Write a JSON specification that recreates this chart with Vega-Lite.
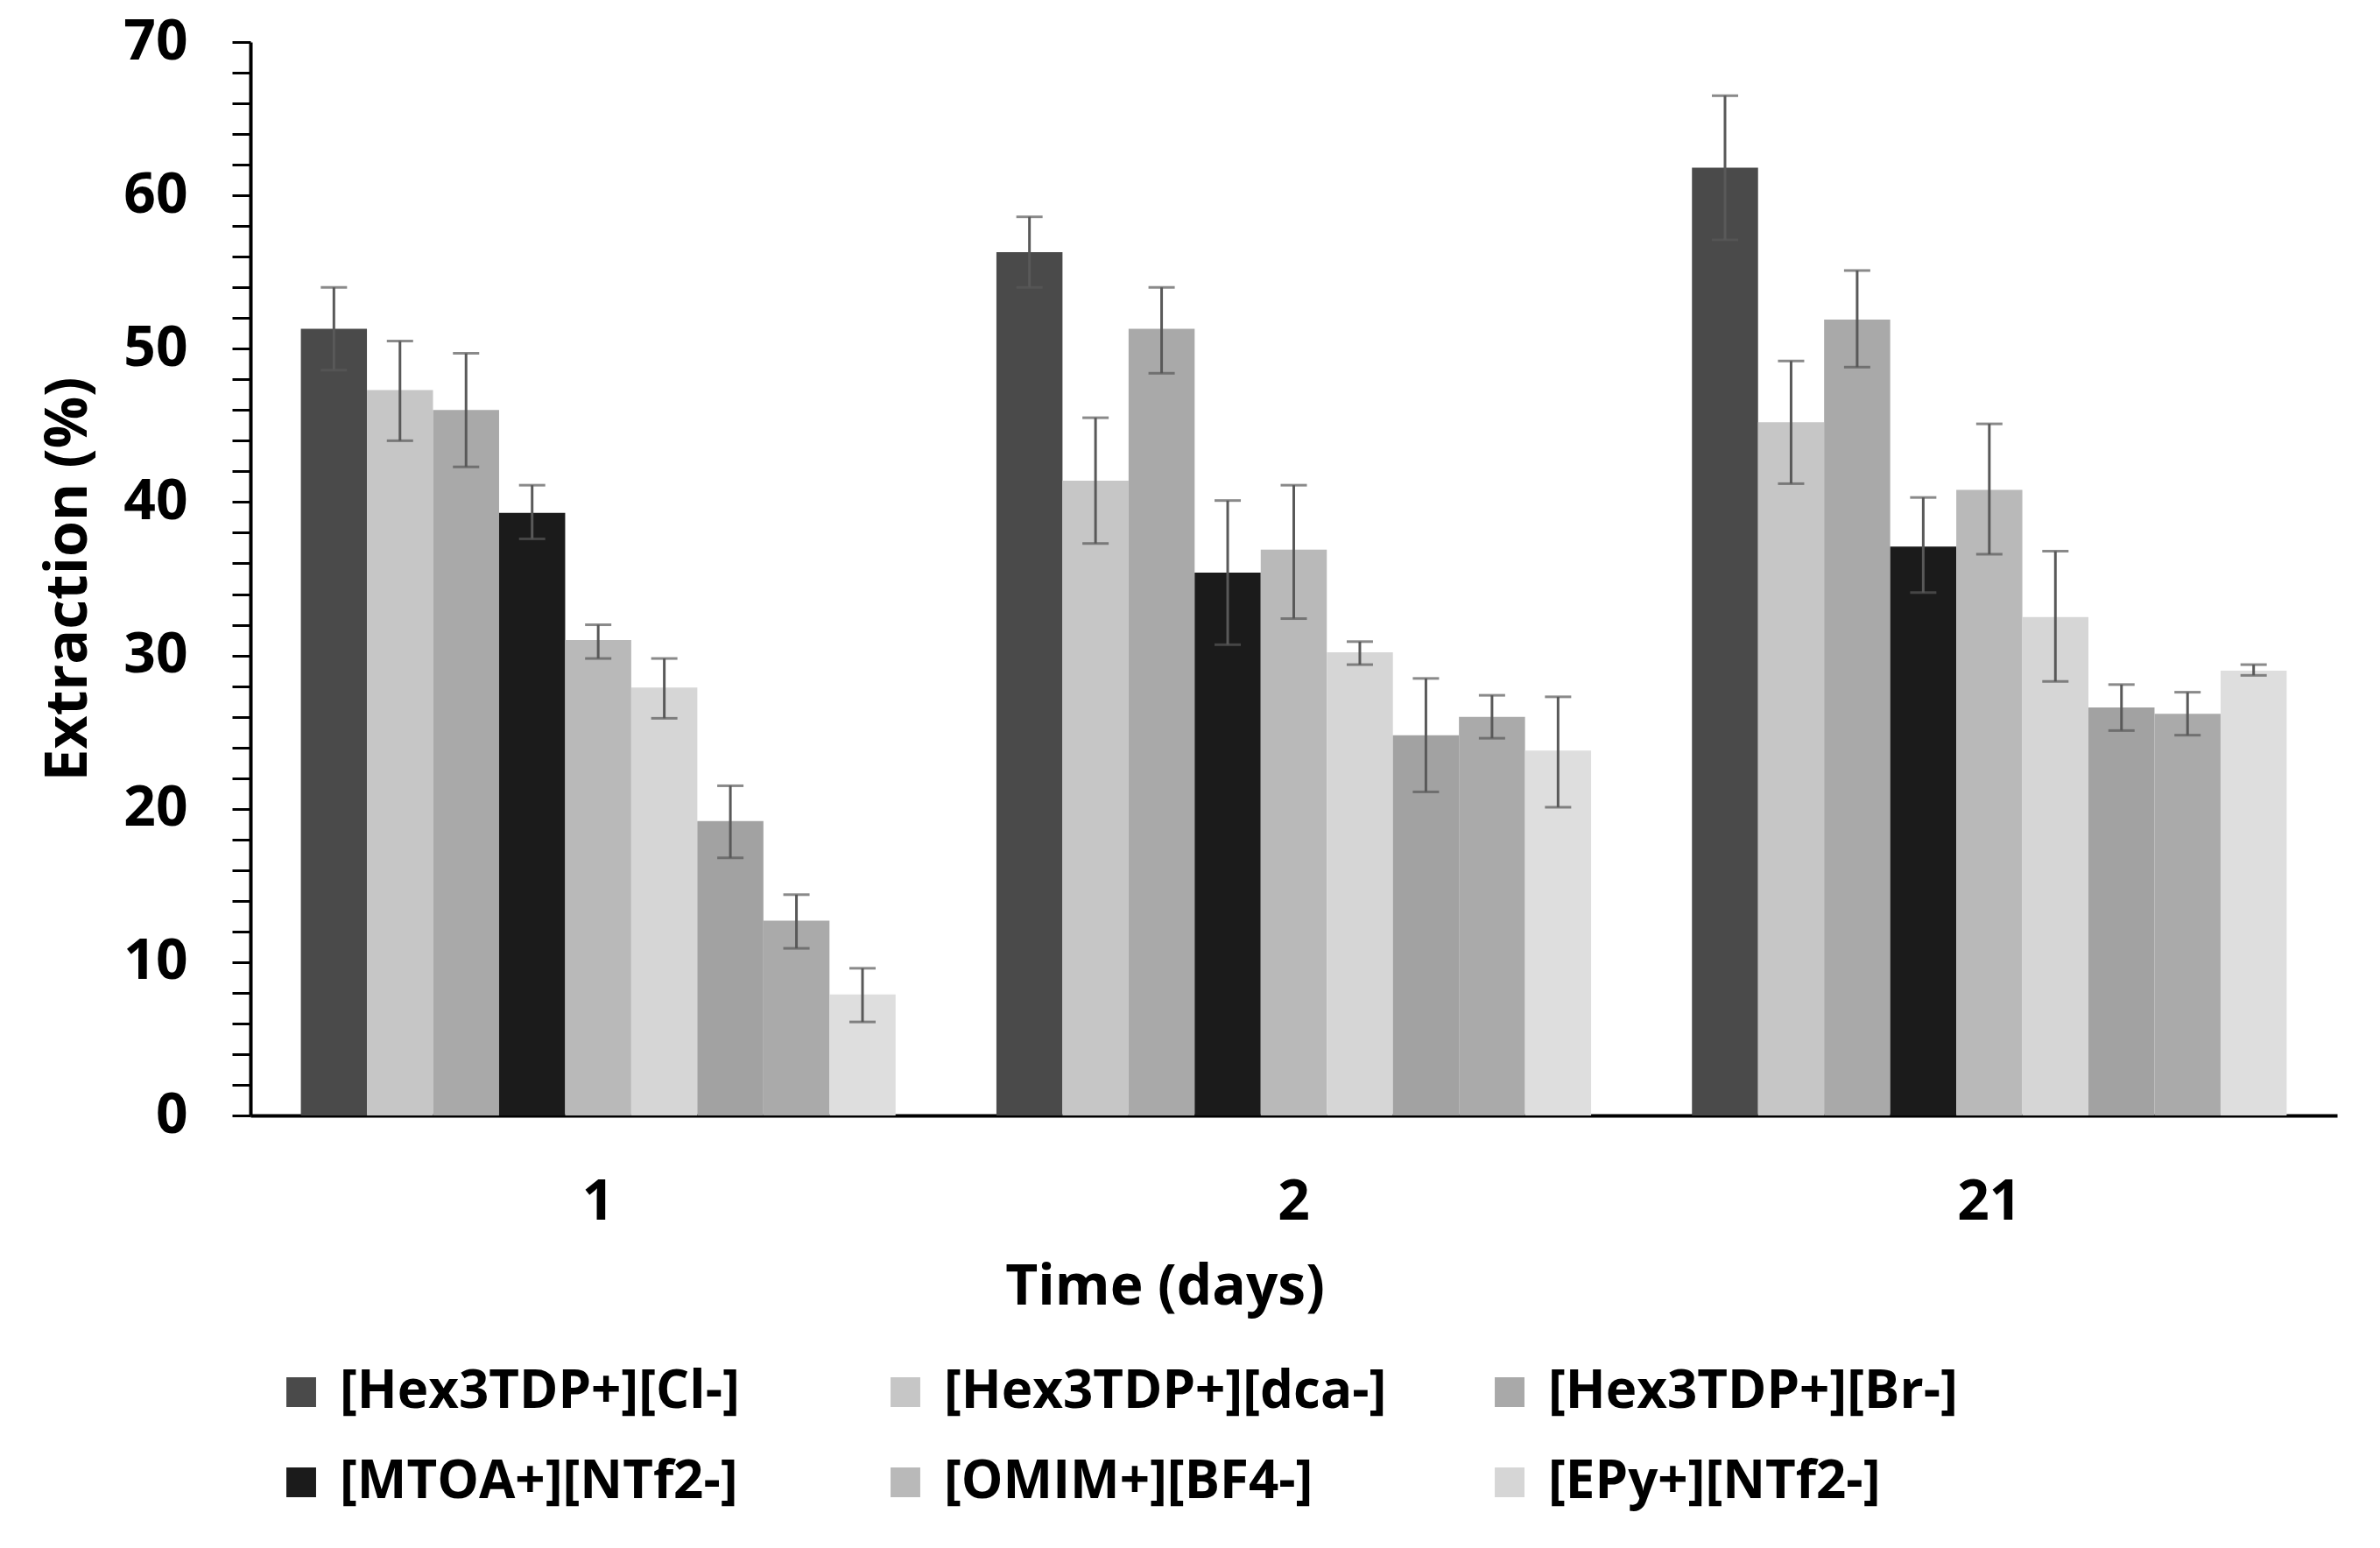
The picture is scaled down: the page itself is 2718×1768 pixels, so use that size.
{
  "$schema": "https://vega.github.io/schema/vega-lite/v6.json",
  "width": 2383,
  "height": 1226,
  "autosize": {"type": "none"},
  "padding": {"left": 286, "top": 48, "right": 49, "bottom": 494},
  "background": "white",
  "config": {
    "font": "Open Sans",
    "view": {"stroke": null},
    "axis": {"grid": false, "labelColor": "black", "titleColor": "black", "labelFontWeight": "bold", "titleFontWeight": "bold"},
    "axisY": {
      "values": [0, 2, 4, 6, 8, 10, 12, 14, 16, 18, 20, 22, 24, 26, 28, 30, 32, 34, 36, 38, 40, 42, 44, 46, 48, 50, 52, 54, 56, 58, 60, 62, 64, 66, 68, 70],
      "tickCount": 35,
      "labelExpr": "datum.value % 10 === 0 ? datum.label : ''",
      "labelOverlap": false,
      "labelBound": false,
      "labelFlush": false,
      "domainColor": "black",
      "domainWidth": 4,
      "tickColor": "black",
      "tickWidth": 3,
      "tickSize": 21,
      "labelFontSize": 64,
      "labelPadding": 51,
      "titleFontSize": 66,
      "titlePadding": 28
    }
  },
  "data": {
    "values": [
      {"day": "1", "il": "[Hex3TDP+][Cl-]", "value": 51.3, "lo": 48.6, "hi": 54.0},
      {"day": "1", "il": "[Hex3TDP+][dca-]", "value": 47.3, "lo": 44.0, "hi": 50.5},
      {"day": "1", "il": "[Hex3TDP+][Br-]", "value": 46.0, "lo": 42.3, "hi": 49.7},
      {"day": "1", "il": "[MTOA+][NTf2-]", "value": 39.3, "lo": 37.6, "hi": 41.1},
      {"day": "1", "il": "[OMIM+][BF4-]", "value": 31.0, "lo": 29.8, "hi": 32.0},
      {"day": "1", "il": "[EPy+][NTf2-]", "value": 27.9, "lo": 25.9, "hi": 29.8},
      {"day": "1", "il": "Series 7", "value": 19.2, "lo": 16.8, "hi": 21.5},
      {"day": "1", "il": "Series 8", "value": 12.7, "lo": 10.9, "hi": 14.4},
      {"day": "1", "il": "Series 9", "value": 7.9, "lo": 6.1, "hi": 9.6},
      {"day": "2", "il": "[Hex3TDP+][Cl-]", "value": 56.3, "lo": 54.0, "hi": 58.6},
      {"day": "2", "il": "[Hex3TDP+][dca-]", "value": 41.4, "lo": 37.3, "hi": 45.5},
      {"day": "2", "il": "[Hex3TDP+][Br-]", "value": 51.3, "lo": 48.4, "hi": 54.0},
      {"day": "2", "il": "[MTOA+][NTf2-]", "value": 35.4, "lo": 30.7, "hi": 40.1},
      {"day": "2", "il": "[OMIM+][BF4-]", "value": 36.9, "lo": 32.4, "hi": 41.1},
      {"day": "2", "il": "[EPy+][NTf2-]", "value": 30.2, "lo": 29.4, "hi": 30.9},
      {"day": "2", "il": "Series 7", "value": 24.8, "lo": 21.1, "hi": 28.5},
      {"day": "2", "il": "Series 8", "value": 26.0, "lo": 24.6, "hi": 27.4},
      {"day": "2", "il": "Series 9", "value": 23.8, "lo": 20.1, "hi": 27.3},
      {"day": "21", "il": "[Hex3TDP+][Cl-]", "value": 61.8, "lo": 57.1, "hi": 66.5},
      {"day": "21", "il": "[Hex3TDP+][dca-]", "value": 45.2, "lo": 41.2, "hi": 49.2},
      {"day": "21", "il": "[Hex3TDP+][Br-]", "value": 51.9, "lo": 48.8, "hi": 55.1},
      {"day": "21", "il": "[MTOA+][NTf2-]", "value": 37.1, "lo": 34.1, "hi": 40.3},
      {"day": "21", "il": "[OMIM+][BF4-]", "value": 40.8, "lo": 36.6, "hi": 45.1},
      {"day": "21", "il": "[EPy+][NTf2-]", "value": 32.5, "lo": 28.3, "hi": 36.8},
      {"day": "21", "il": "Series 7", "value": 26.6, "lo": 25.1, "hi": 28.1},
      {"day": "21", "il": "Series 8", "value": 26.2, "lo": 24.8, "hi": 27.6},
      {"day": "21", "il": "Series 9", "value": 29.0, "lo": 28.7, "hi": 29.4}
    ]
  },
  "encoding": {
    "x": {
      "field": "day",
      "type": "nominal",
      "sort": ["1", "2", "21"],
      "scale": {"paddingInner": 0.145, "paddingOuter": 0.0725},
      "axis": {
        "title": "Time (days)",
        "titleX": 1044,
        "titleAlign": "center",
        "labelAngle": 0,
        "ticks": false,
        "tickSize": 0,
        "domainColor": "black",
        "domainWidth": 4,
        "labelFontSize": 64,
        "labelPadding": 67,
        "titleFontSize": 64,
        "titlePadding": 33
      }
    },
    "xOffset": {
      "field": "il",
      "type": "nominal",
      "sort": ["[Hex3TDP+][Cl-]", "[Hex3TDP+][dca-]", "[Hex3TDP+][Br-]", "[MTOA+][NTf2-]", "[OMIM+][BF4-]", "[EPy+][NTf2-]", "Series 7", "Series 8", "Series 9"],
      "scale": {"paddingInner": 0, "paddingOuter": 0}
    }
  },
  "layer": [
    {
      "mark": {"type": "bar"},
      "encoding": {
        "y": {
          "field": "value",
          "type": "quantitative",
          "scale": {"domain": [0, 70]},
          "title": "Extraction (%)"
        },
        "color": {
          "field": "il",
          "type": "nominal",
          "scale": {
            "domain": ["[Hex3TDP+][Cl-]", "[Hex3TDP+][dca-]", "[Hex3TDP+][Br-]", "[MTOA+][NTf2-]", "[OMIM+][BF4-]", "[EPy+][NTf2-]", "Series 7", "Series 8", "Series 9"],
            "range": ["#4a4a4a", "#c6c6c6", "#a9a9a9", "#1b1b1b", "#b9b9b9", "#d6d6d6", "#a2a2a2", "#aaaaaa", "#dedede"]
          },
          "legend": {
            "values": ["[Hex3TDP+][Cl-]", "[Hex3TDP+][dca-]", "[Hex3TDP+][Br-]", "[MTOA+][NTf2-]", "[OMIM+][BF4-]", "[EPy+][NTf2-]"],
            "title": null,
            "orient": "none",
            "legendX": 28,
            "legendY": 1512,
            "direction": "horizontal",
            "columns": 3,
            "gridAlign": "all",
            "columnPadding": 110,
            "rowPadding": 43,
            "symbolType": "square",
            "symbolSize": 1150,
            "symbolStrokeWidth": 0,
            "labelFontSize": 60,
            "labelFontWeight": "bold",
            "labelColor": "black",
            "labelOffset": 14,
            "labelLimit": 0
          }
        }
      }
    },
    {
      "mark": {"type": "rule", "color": "#595959", "strokeWidth": 3},
      "encoding": {
        "y": {"field": "lo", "type": "quantitative", "title": "Extraction (%)"},
        "y2": {"field": "hi"}
      }
    },
    {
      "mark": {"type": "tick", "color": "#595959", "thickness": 3, "size": 30},
      "encoding": {
        "y": {"field": "hi", "type": "quantitative", "title": "Extraction (%)"}
      }
    },
    {
      "mark": {"type": "tick", "color": "#595959", "thickness": 3, "size": 30},
      "encoding": {
        "y": {"field": "lo", "type": "quantitative", "title": "Extraction (%)"}
      }
    }
  ]
}
